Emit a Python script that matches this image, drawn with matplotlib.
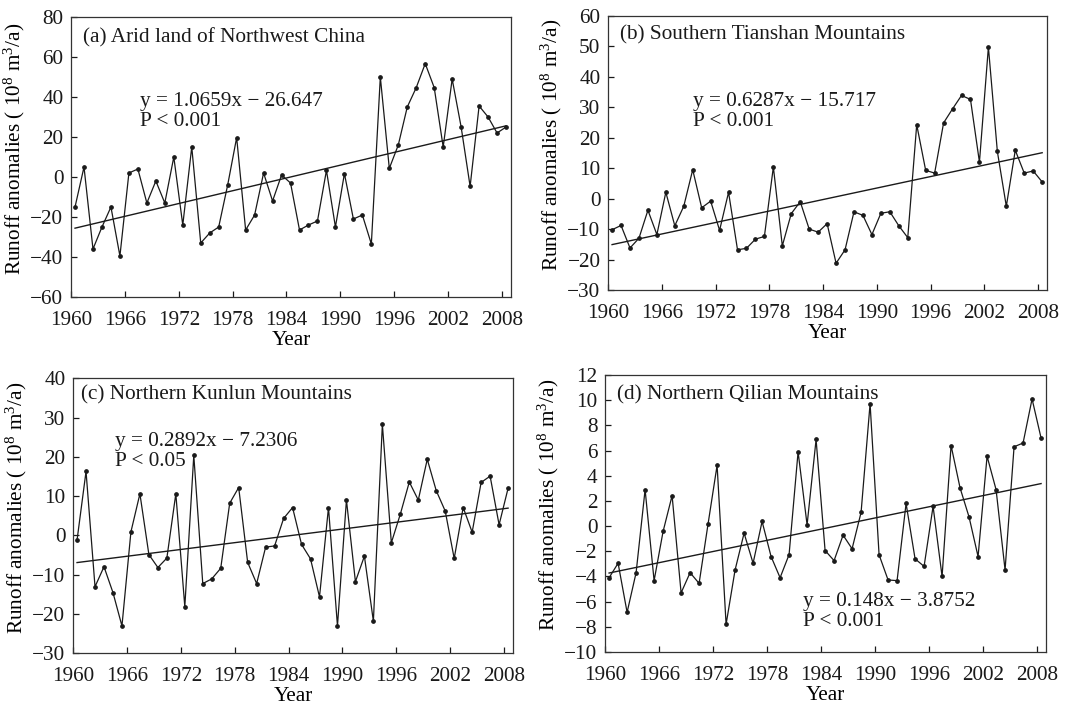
import numpy as np
import matplotlib
matplotlib.use("Agg")
import matplotlib.pyplot as plt

plt.rcParams["font.family"] = ["Liberation Serif", "DejaVu Serif"]
plt.rcParams["mathtext.fontset"] = "custom"
plt.rcParams["mathtext.rm"] = "Liberation Serif"
plt.rcParams["mathtext.it"] = "Liberation Serif:italic"

years = np.arange(1960, 2009)

# Annual runoff anomalies, 10^8 m^3/a
arid_nw = [-15, 5, -36, -25, -15, -39.5, 2, 4, -13, -2, -13, 10, -24, 15, -33,
           -28, -25, -4, 19.7, -26.5, -19, 2, -12, 1, -3, -26.5, -24, -22, 3.3,
           -25, 1.7, -21, -19, -33.5, 50, 4.3, 16, 35, 44.7, 56.7, 44.7, 15, 49,
           25, -4.7, 35.5, 30, 22, 25]
s_tianshan = [-10.2, -8.8, -16.2, -13, -3.8, -11.8, 2.1, -8.9, -2.5, 9.5, -3,
              -0.8, -10.4, 2.1, -16.8, -16.3, -13.3, -12.4, 10.4, -15.5, -4.9,
              -1, -10, -11, -8.2, -21.2, -16.8, -4.3, -5.5, -11.8, -4.8, -4.3,
              -8.9, -12.8, 24.3, 9.3, 8.4, 24.9, 29.5, 33.9, 32.6, 12, 49.8,
              15.5, -2.5, 15.9, 8.4, 9.1, 5.5]
n_kunlun = [-1.2, 16.3, -13.1, -8, -14.6, -23.1, 0.9, 10.6, -4.9, -8.2, -5.8,
            10.6, -18.2, 20.4, -12.3, -11.1, -8.4, 8.2, 12.2, -6.9, -12.3, -3,
            -2.7, 4.3, 7.1, -2.3, -6, -15.7, 7.1, -23.1, 9, -11.8, -5.3, -21.9,
            28.3, -1.9, 5.4, 13.6, 9, 19.4, 11.4, 6.2, -5.9, 7.1, 0.8, 13.5,
            15.1, 2.7, 12]
n_qilian = [-4.1, -2.95, -6.85, -3.7, 2.9, -4.33, -0.42, 2.42, -5.3, -3.7, -4.55,
            0.19, 4.83, -7.8, -3.48, -0.56, -2.95, 0.37, -2.42, -4.1, -2.26, 5.9,
            0.1, 6.88, -1.94, -2.74, -0.72, -1.8, 1.09, 9.72, -2.28, -4.28, -4.33,
            1.8, -2.6, -3.2, 1.57, -4.0, 6.4, 3.03, 0.72, -2.42, 5.55, 2.9, -3.48,
            6.3, 6.6, 10.1, 7.0]

titles = ["(a) Arid land of Northwest China", "(b) Southern Tianshan Mountains",
          "(c) Northern Kunlun Mountains", "(d) Northern Qilian Mountains"]
slopes = [1.0659, 0.6287, 0.2892, 0.148]
intercepts = [-26.647, -15.717, -7.2306, -3.8752]
coef_text = ["1.0659x \u2212 26.647", "0.6287x \u2212 15.717",
             "0.2892x \u2212 7.2306", "0.148x \u2212 3.8752"]
p_text = ["P < 0.001", "P < 0.001", "P < 0.05", "P < 0.001"]
ylims = [(-60, 80), (-30, 60), (-30, 40), (-10, 12)]
ysteps = [20, 10, 10, 2]
series = [arid_nw, s_tianshan, n_kunlun, n_qilian]

# axes boxes in figure fractions
boxes = [
    [0.0664, 0.5805, 0.4116, 0.3955],
    [0.5688, 0.5904, 0.4107, 0.3870],
    [0.0683, 0.0777, 0.4116, 0.3877],
    [0.5660, 0.0791, 0.4125, 0.3912],
]
title_pos = [(0.028, 0.960), (0.027, 0.966), (0.019, 0.975), (0.027, 0.964)]
eq_pos = [(0.157, 0.733), (0.194, 0.723), (0.095, 0.805), (0.450, 0.218)]

FS = 15.3
INK = "#1a1a1a"

fig = plt.figure(figsize=(10.69, 7.08), dpi=100)
for k in range(4):
    ax = fig.add_axes(boxes[k])
    xs = years + 0.45
    ax.plot(xs, series[k], color=INK, lw=0.9, marker="o", ms=2.4,
            mfc=INK, mec=INK)
    idx = np.arange(1, len(years) + 1)
    trend = slopes[k] * idx + intercepts[k]
    ax.plot(xs, trend, color=INK, lw=1.0)

    ax.set_xlim(1960, 2009)
    ax.set_ylim(*ylims[k])
    ax.set_xticks(np.arange(1960, 2009, 6))
    ax.set_yticks(np.arange(ylims[k][0], ylims[k][1] + 0.1, ysteps[k]))
    ax.tick_params(direction="in", length=4, width=0.9, labelsize=FS,
                   colors=INK)
    ax.tick_params(axis="x", pad=10)
    ax.tick_params(axis="y", pad=5.5)
    for sp in ax.spines.values():
        sp.set_linewidth(0.9)
        sp.set_color("#333333")

    ax.set_xlabel("Year", fontsize=FS, labelpad=1)
    ax.set_ylabel("Runoff anomalies ( 10$^{8}$ m$^{3}$/a)", fontsize=FS)
    ax.yaxis.set_label_coords(-0.10, 0.53)

    ax.text(*title_pos[k], titles[k], transform=ax.transAxes, ha="left",
            va="top", fontsize=FS, color=INK)
    ax.text(*eq_pos[k], "y = " + coef_text[k] + "\n" + p_text[k],
            transform=ax.transAxes, ha="left", va="top", fontsize=FS,
            color=INK, linespacing=1.1)

fig.savefig("out.png", dpi=100, facecolor="white")
